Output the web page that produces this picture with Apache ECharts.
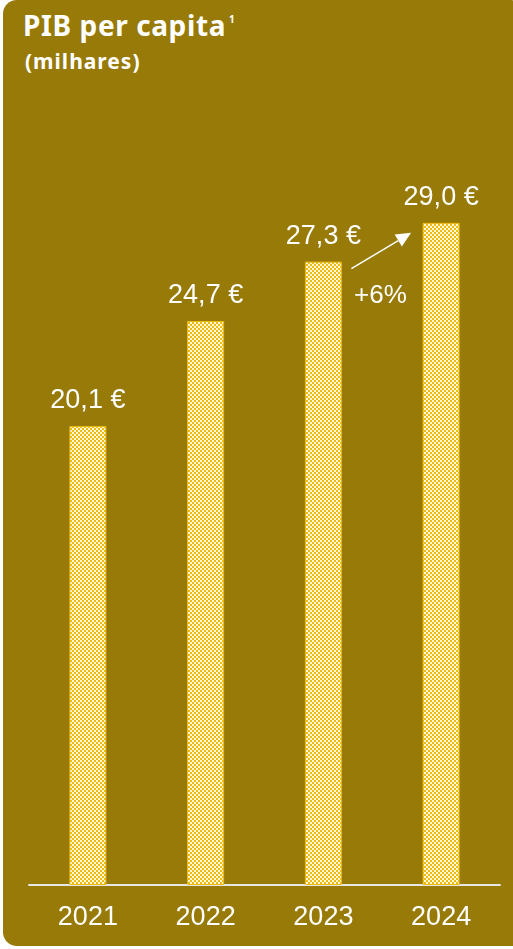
<!DOCTYPE html>
<html>
<head>
<meta charset="utf-8">
<script src="https://cdn.jsdelivr.net/npm/echarts@6/dist/echarts.min.js"></script>
<style>
  html, body { margin: 0; padding: 0; background: #fff; }
  #bg {
    position: absolute; left: 3px; top: 0; width: 516px; height: 946px;
    background: #977a07; border-radius: 14px 8px 0 14px;
  }
  #title {
    position: absolute; left: 23px; top: 0px; color: #fff;
    font-family: "Noto Sans", "Open Sans", sans-serif; font-weight: 700;
  }
  #title .t1 { font-size: 28px; letter-spacing: 0.6px; line-height: 38px; }
  #title .t1 sup { font-size: 10px; vertical-align: 13px; margin-left: 3px; }
  #title .t2 { font-size: 21px; letter-spacing: 1px; line-height: 26px; margin-top: 4px; margin-left: 2px; }
  #chart { position: absolute; left: 0; top: 0; width: 513px; height: 949px; }
</style>
</head>
<body>
<div id="bg"></div>
<div id="title"><div class="t1">PIB per capita<sup>1</sup></div><div class="t2">(milhares)</div></div>
<div id="chart"></div>
<script>
const years = ["2021", "2022", "2023", "2024"];
const pib = [20.1, 24.7, 27.3, 29.0];
const growthLabel = "+6%";

// motif quadrillé jaune / blanc des barres
function makePattern() {
  const c = document.createElement("canvas");
  c.width = 4; c.height = 4;
  const ctx = c.getContext("2d");
  ctx.fillStyle = "#eebb10";
  ctx.fillRect(0, 0, 4, 4);
  ctx.fillStyle = "#fff8dc";
  ctx.fillRect(0, 0, 2, 2);
  ctx.fillRect(2, 2, 2, 2);
  return c;
}

const chart = echarts.init(document.getElementById("chart"), null, { renderer: "canvas" });
chart.setOption({
  backgroundColor: "transparent",
  animation: false,
  grid: { left: 29, right: 13, top: 200, bottom: 64 },
  xAxis: {
    type: "category",
    data: years,
    axisLine: { lineStyle: { color: "#e6e6e6", width: 2 } },
    axisTick: { show: false },
    axisLabel: {
      color: "#fff", fontSize: 27, margin: 19,
      fontFamily: "Liberation Sans, Arial, sans-serif"
    }
  },
  yAxis: { type: "value", min: 0, max: 30, show: false, splitLine: { show: false } },
  series: [{
    type: "bar",
    data: pib,
    barWidth: 37,
    itemStyle: {
      color: { image: makePattern(), repeat: "repeat" },
      borderColor: "#eebb10", borderWidth: 1
    },
    label: {
      show: true, position: "top", distance: 12,
      color: "#fff", fontSize: 27,
      fontFamily: "Liberation Sans, Arial, sans-serif",
      formatter: p => p.value.toFixed(1).replace(".", ",") + " €"
    }
  }]
});

// flèche de croissance entre 2023 et 2024
const a = chart.convertToPixel({ seriesIndex: 0 }, [2, pib[2]]);
const b = chart.convertToPixel({ seriesIndex: 0 }, [3, pib[3]]);
const x1 = a[0] + 28, y1 = a[1] + 7;
const x2 = b[0] - 30, y2 = b[1] + 10;
const dx = x2 - x1, dy = y2 - y1, len = Math.hypot(dx, dy);
const ux = dx / len, uy = dy / len;
const bx = x2 - ux * 15, by = y2 - uy * 15;
chart.setOption({
  graphic: [
    { type: "line", shape: { x1: x1, y1: y1, x2: bx, y2: by }, style: { stroke: "#fff", lineWidth: 1.5 } },
    { type: "polygon", shape: { points: [[x2, y2], [bx - uy * 7, by + ux * 7], [bx + uy * 7, by - ux * 7]] }, style: { fill: "#fff" } },
    { type: "text", x: a[0] + 57, y: a[1] + 34,
      style: { text: growthLabel, fill: "#fff", fontSize: 26, fontFamily: "Liberation Sans, Arial, sans-serif", align: "center", verticalAlign: "middle" } }
  ]
});
</script>
</body>
</html>
